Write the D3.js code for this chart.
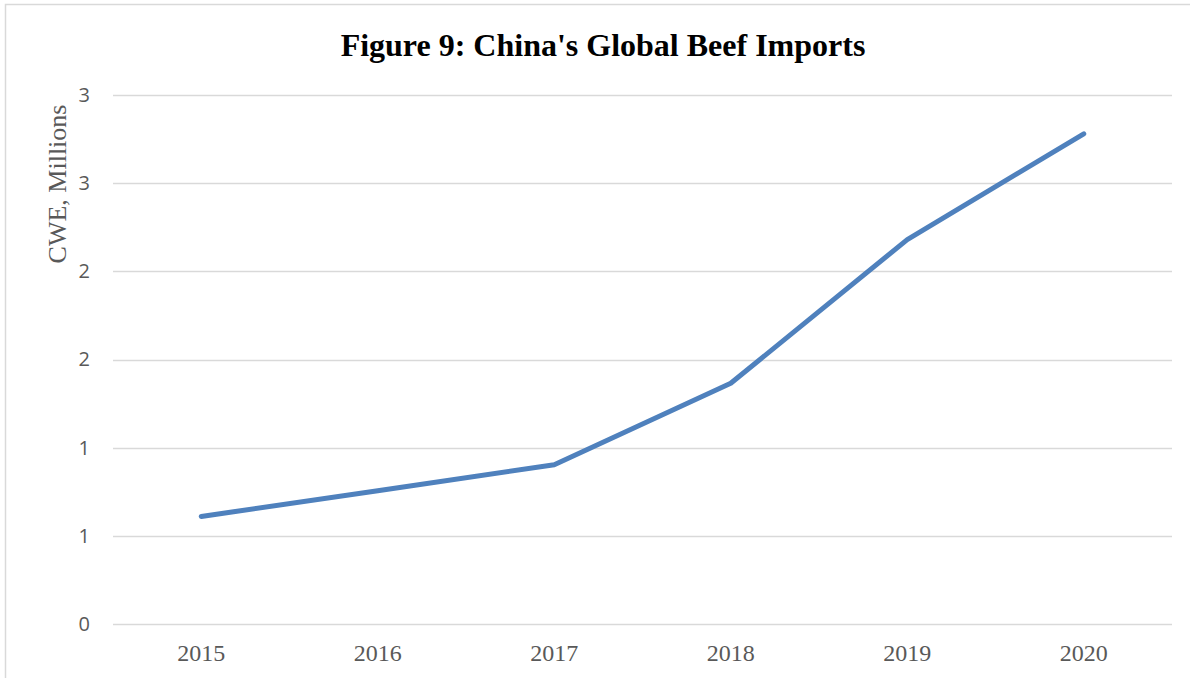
<!DOCTYPE html>
<html>
<head>
<meta charset="utf-8">
<script src="https://cdn.jsdelivr.net/npm/d3@7"></script>
<style>
  body { margin: 0; background: #fff; }
</style>
</head>
<body>
<svg id="chart" width="1190" height="678"></svg>
<script>
// Chart data (CWE, millions)
const years = ["2015", "2016", "2017", "2018", "2019", "2020"];
const imports = [0.61, 0.756, 0.903, 1.365, 2.18, 2.78];
const yTicks = [0, 0.5, 1, 1.5, 2, 2.5, 3];

const size = {
    width: 1190,
    height: 678,
    margin: { top: 95, right: 18, bottom: 54, left: 113 }
};

const svg = d3.select("#chart");

// Outer frame (bottom and right edges fall outside the picture)
svg.append("rect")
    .attr("x", 5.5)
    .attr("y", 4.5)
    .attr("width", 1200)
    .attr("height", 700)
    .attr("fill", "none")
    .attr("stroke", "#d9d9d9")
    .attr("stroke-width", 1.5);

const xScale = d3.scaleBand()
    .domain(years)
    .range([size.margin.left, size.width - size.margin.right]);

const yScale = d3.scaleLinear()
    .domain([0, 3])
    .range([size.height - size.margin.bottom, size.margin.top]);

// Gridlines
svg.append("g")
    .selectAll("line")
    .data(yTicks)
    .join("line")
    .attr("x1", size.margin.left)
    .attr("x2", size.width - size.margin.right)
    .attr("y1", d => Math.round(yScale(d)) + 0.5)
    .attr("y2", d => Math.round(yScale(d)) + 0.5)
    .attr("stroke", "#d9d9d9")
    .attr("stroke-width", 1.5);

// Y axis labels (whole numbers, as in the original)
const yAxis = svg.append("g")
    .attr("transform", `translate(${size.margin.left}, 0)`)
    .call(d3.axisLeft(yScale).tickValues(yTicks).tickFormat(d3.format(".0f")).tickSize(0).tickPadding(23));
yAxis.select(".domain").remove();
yAxis.selectAll("text")
    .attr("font-family", "'Open Sans', 'Liberation Sans', sans-serif")
    .attr("font-size", "20px")
    .attr("fill", "#595959");

// X axis labels
const xAxis = svg.append("g")
    .attr("transform", `translate(0, ${size.height - size.margin.bottom})`)
    .call(d3.axisBottom(xScale).tickSize(0).tickPadding(20));
xAxis.select(".domain").remove();
xAxis.selectAll("text")
    .attr("font-family", "'Liberation Serif', 'Times New Roman', serif")
    .attr("font-size", "24px")
    .attr("fill", "#595959");

// Line
const line = d3.line()
    .x((d, i) => xScale(years[i]) + xScale.bandwidth() / 2)
    .y(d => yScale(d));

svg.append("path")
    .datum(imports)
    .attr("d", line)
    .attr("fill", "none")
    .attr("stroke", "#4f81bd")
    .attr("stroke-width", 5)
    .attr("stroke-linecap", "round")
    .attr("stroke-linejoin", "round");

// Y axis title
svg.append("text")
    .attr("transform", "rotate(-90)")
    .attr("x", -184)
    .attr("y", 66)
    .attr("text-anchor", "middle")
    .attr("font-family", "'Liberation Serif', 'Times New Roman', serif")
    .attr("font-size", "26px")
    .attr("fill", "#595959")
    .text("CWE, Millions");

// Chart title
svg.append("text")
    .attr("x", 603)
    .attr("y", 56)
    .attr("text-anchor", "middle")
    .attr("font-family", "'Liberation Serif', 'Times New Roman', serif")
    .attr("font-weight", "bold")
    .attr("font-size", "32px")
    .attr("fill", "#000")
    .text("Figure 9: China's Global Beef Imports");
</script>
</body>
</html>
